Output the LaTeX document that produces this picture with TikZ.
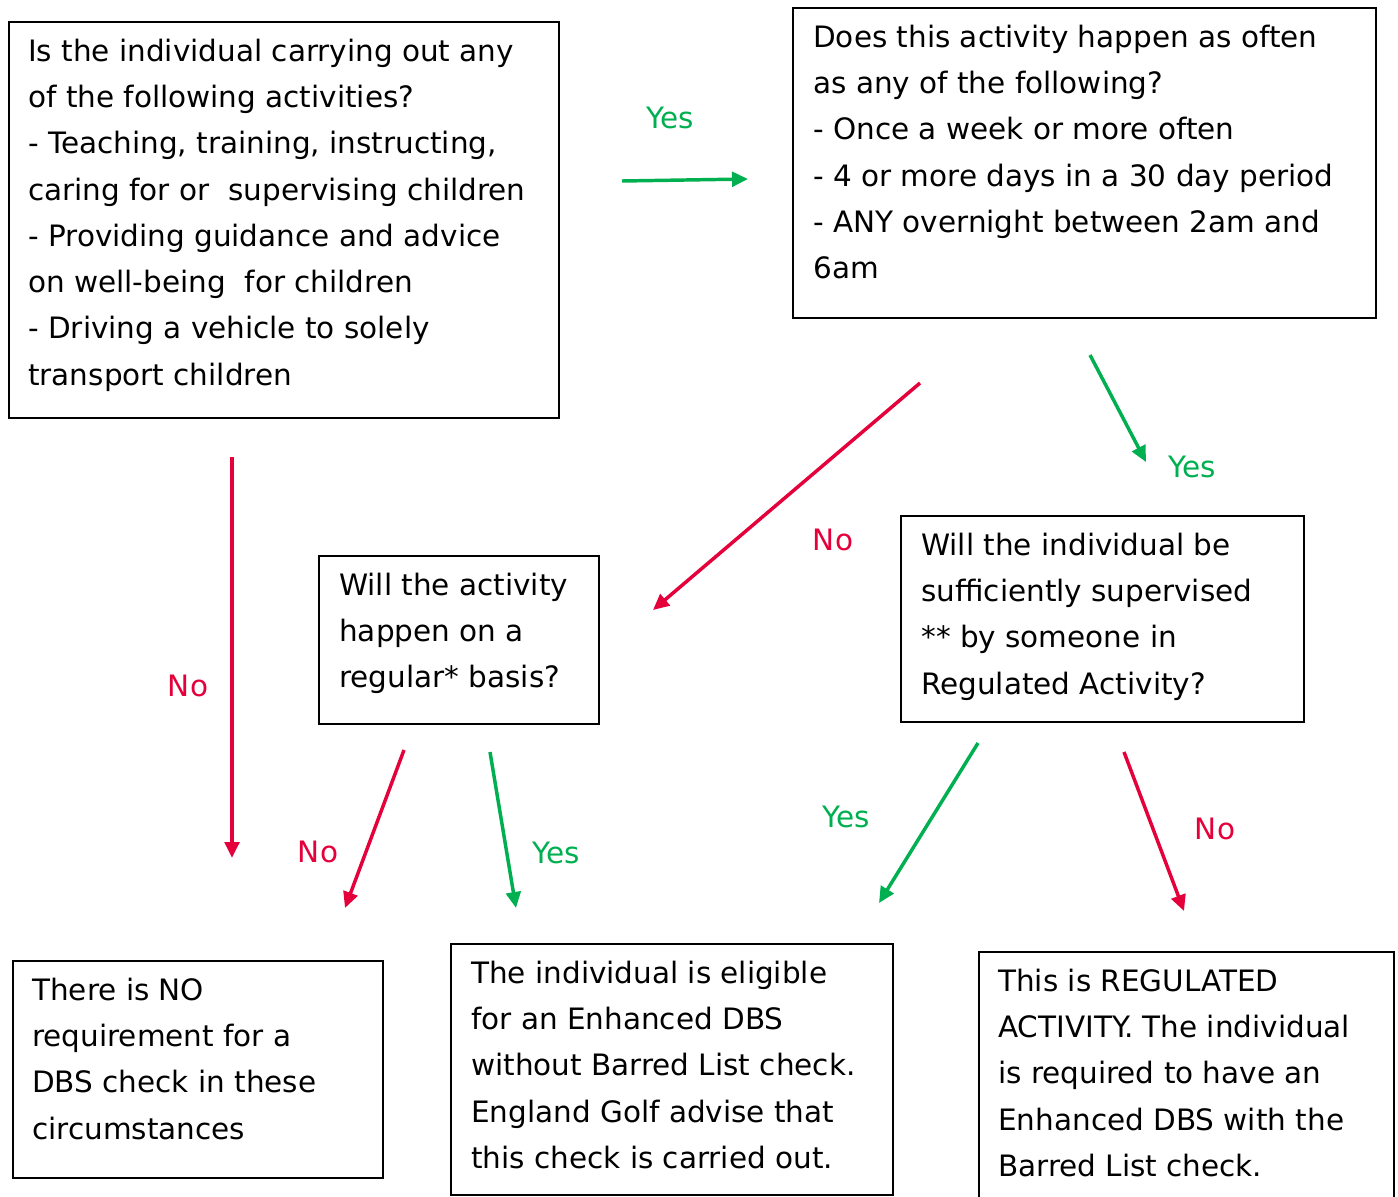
\documentclass[tikz,border=0pt]{standalone}
\usepackage{fontspec}
\setmainfont{DejaVu Sans}
\usetikzlibrary{arrows.meta,calc}
\definecolor{yesgreen}{HTML}{00B050}
\definecolor{nored}{HTML}{E4003A}
\newcommand{\firststrut}{\rule{0pt}{30pt}}
\begin{document}
\begin{tikzpicture}[x=0.75pt,y=-0.75pt,
  box/.style={draw=black,line width=1.5pt,inner sep=0pt,anchor=north west},
  txt/.style={inner sep=0pt,anchor=north west,align=left,font=\fontsize{22.1pt}{34.7pt}\selectfont},
  lbl/.style={inner sep=0pt,font=\fontsize{22.1pt}{34.7pt}\selectfont},
  yesarrow/.style={draw=yesgreen,line width=2.6pt,-{Triangle[length=12pt,width=11pt]}},
  noarrow/.style={draw=nored,line width=2.6pt,-{Triangle[length=12pt,width=11pt]}}]
\path[use as bounding box] (0,0) rectangle (1398,1196);

% boxes
\node[box,minimum width=550*0.75pt,minimum height=396*0.75pt] (b1) at (8,21) {};
\node[box,minimum width=583*0.75pt,minimum height=310*0.75pt] (b2) at (792,7) {};
\node[box,minimum width=280*0.75pt,minimum height=168*0.75pt] (b3) at (318,555) {};
\node[box,minimum width=403*0.75pt,minimum height=206*0.75pt] (b4) at (900,515) {};
\node[box,minimum width=370*0.75pt,minimum height=217*0.75pt] (b5) at (12,960) {};
\node[box,minimum width=442*0.75pt,minimum height=251*0.75pt] (b6) at (450,943) {};
\node[box,minimum width=415*0.75pt,minimum height=262*0.75pt] (b7) at (978,951) {};

% texts
\node[txt] (t1) at ($(b1.north west)+(20,0)$) {\firststrut Is the individual carrying out any\\
of the following activities?\\
- Teaching, training, instructing,\\
caring for or \ supervising children\\
- Providing guidance and advice\\
on well-being \ for children\\
- Driving a vehicle to solely\\
transport children};
\node[txt] (t2) at ($(b2.north west)+(21,0)$) {\firststrut Does this activity happen as often\\
as any of the following?\\
- Once a week or more often\\
- 4 or more days in a 30 day period\\
- ANY overnight between 2am and\\
6am};
\node[txt] (t3) at ($(b3.north west)+(21,0)$) {\firststrut Will the activity\\
happen on a\\
regular* basis?};
\node[txt] (t4) at ($(b4.north west)+(21,0)$) {\firststrut Will the individual be\\
sufficiently supervised\\
** by someone in\\
Regulated Activity?};
\node[txt] (t5) at ($(b5.north west)+(20,0)$) {\firststrut There is NO\\
requirement for a\\
DBS check in these\\
circumstances};
\node[txt] (t6) at ($(b6.north west)+(21,0)$) {\firststrut The individual is eligible\\
for an Enhanced DBS\\
without Barred List check.\\
England Golf advise that\\
this check is carried out.};
\node[txt] (t7) at ($(b7.north west)+(20,0)$) {\firststrut This is REGULATED\\
ACTIVITY. The individual\\
is required to have an\\
Enhanced DBS with the\\
Barred List check.};

% arrow end points
\coordinate (a1s) at (622,181); \coordinate (a1e) at (748,179);
\coordinate (a2s) at (920,383); \coordinate (a2e) at (653,610);
\coordinate (a3s) at (1090,355); \coordinate (a3e) at (1146,462);
\coordinate (a4s) at (232,457); \coordinate (a4e) at (232,858);
\coordinate (a5s) at (404,750); \coordinate (a5e) at (345,908);
\coordinate (a6s) at (490,752); \coordinate (a6e) at (516,908);
\coordinate (a7s) at (978,743); \coordinate (a7e) at (879,903);
\coordinate (a8s) at (1124,752); \coordinate (a8e) at (1184,911);

\draw[yesarrow] (a1s) -- (a1e);
\draw[noarrow] (a2s) -- (a2e);
\draw[yesarrow] (a3s) -- (a3e);
\draw[noarrow] (a4s) -- (a4e);
\draw[noarrow] (a5s) -- (a5e);
\draw[yesarrow] (a6s) -- (a6e);
\draw[yesarrow] (a7s) -- (a7e);
\draw[noarrow] (a8s) -- (a8e);

% labels
\node[lbl,text=yesgreen] (l1) at (670,118) {Yes};
\node[lbl,text=nored] (l2) at (833,540) {No};
\node[lbl,text=yesgreen] (l3) at (1192,467) {Yes};
\node[lbl,text=nored] (l4) at (188,686) {No};
\node[lbl,text=nored] (l5) at (318,852) {No};
\node[lbl,text=yesgreen] (l6) at (556,853) {Yes};
\node[lbl,text=yesgreen] (l7) at (846,817) {Yes};
\node[lbl,text=nored] (l8) at (1215,829) {No};
\end{tikzpicture}
\end{document}
